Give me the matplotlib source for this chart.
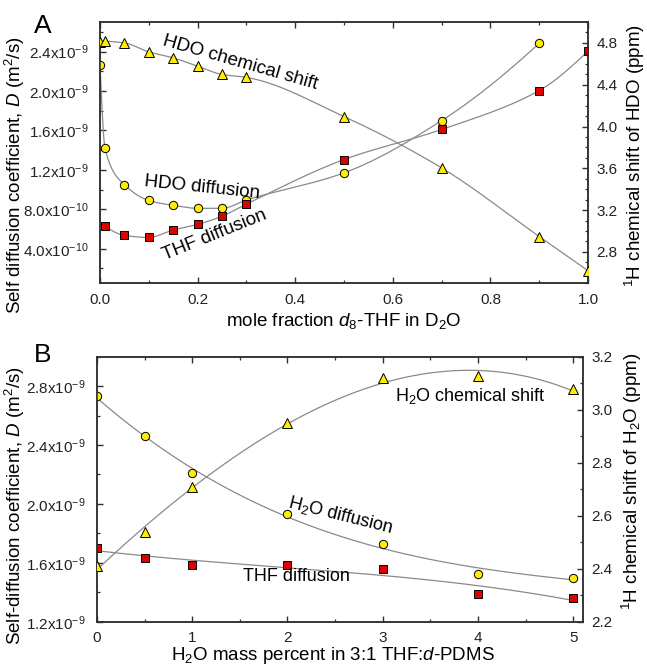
import numpy as np
import matplotlib
matplotlib.use("Agg")
import matplotlib.pyplot as plt
from matplotlib.ticker import MultipleLocator, FuncFormatter

plt.rcParams['font.family'] = ['Liberation Sans', 'DejaVu Sans']
plt.rcParams['mathtext.fontset'] = 'custom'
plt.rcParams['mathtext.rm'] = 'Liberation Sans'
plt.rcParams['mathtext.it'] = 'Liberation Sans:italic'
plt.rcParams['mathtext.default'] = 'rm'

# ---- Panel A: d8-THF / D2O mixtures ----
a_x_hdo = [0.0, 0.01, 0.05, 0.10, 0.15, 0.20, 0.25, 0.30, 0.50, 0.70, 0.90]
a_d_hdo = [2.26e-9, 1.42e-9, 1.05e-9, 0.89e-9, 0.84e-9, 0.81e-9, 0.81e-9,
           0.895e-9, 1.17e-9, 1.70e-9, 2.485e-9]
a_x_thf = [0.01, 0.05, 0.10, 0.15, 0.20, 0.25, 0.30, 0.50, 0.70, 0.90, 1.0]
a_d_thf = [0.63e-9, 0.535e-9, 0.515e-9, 0.59e-9, 0.647e-9, 0.73e-9, 0.853e-9,
           1.305e-9, 1.61e-9, 2.005e-9, 2.405e-9]
a_x_shift = [0.0, 0.01, 0.05, 0.10, 0.15, 0.20, 0.25, 0.30, 0.50, 0.70, 0.90, 1.0]
a_shift = [4.81, 4.815, 4.80, 4.714, 4.657, 4.577, 4.498, 4.47, 4.095, 3.604,
           2.947, 2.62]

# ---- Panel B: H2O in 3:1 THF:d-PDMS ----
b_x = [0, 0.5, 1, 2, 3, 4, 5]
b_d_h2o = [2.73e-9, 2.462e-9, 2.207e-9, 1.93e-9, 1.727e-9, 1.527e-9, 1.497e-9]
b_d_thf = [1.704e-9, 1.63e-9, 1.587e-9, 1.587e-9, 1.558e-9, 1.389e-9, 1.362e-9]
b_shift = [2.409, 2.538, 2.708, 2.948, 3.119, 3.127, 3.077]

YELLOW = '#ffee00'
RED = '#e00000'
CURVE = '#8a8a8a'
SPINE = '#303030'


def pchip(x, y, n=400):
    """Monotone piecewise-cubic curve through the measured points."""
    x = np.asarray(x, float)
    y = np.asarray(y, float)
    h = np.diff(x)
    d = np.diff(y) / h
    m = np.zeros_like(y)
    for k in range(1, len(x) - 1):
        if d[k - 1] * d[k] > 0:
            w1 = 2 * h[k] + h[k - 1]
            w2 = h[k] + 2 * h[k - 1]
            m[k] = (w1 + w2) / (w1 / d[k - 1] + w2 / d[k])

    def edge(h0, h1, d0, d1):
        mm = ((2 * h0 + h1) * d0 - h0 * d1) / (h0 + h1)
        if np.sign(mm) != np.sign(d0):
            mm = 0.0
        elif np.sign(d0) != np.sign(d1) and abs(mm) > abs(3 * d0):
            mm = 3 * d0
        return mm

    m[0] = edge(h[0], h[1], d[0], d[1])
    m[-1] = edge(h[-1], h[-2], d[-1], d[-2])
    xs = np.linspace(x[0], x[-1], n)
    idx = np.clip(np.searchsorted(x, xs) - 1, 0, len(h) - 1)
    t = (xs - x[idx]) / h[idx]
    h00 = 2 * t**3 - 3 * t**2 + 1
    h10 = t**3 - 2 * t**2 + t
    h01 = -2 * t**3 + 3 * t**2
    h11 = t**3 - t**2
    ys = (h00 * y[idx] + h10 * h[idx] * m[idx] + h01 * y[idx + 1]
          + h11 * h[idx] * m[idx + 1])
    return xs, ys


def polyfit_curve(x, y, deg=3, n=300):
    """Least-squares polynomial trend through the measured points."""
    x = np.asarray(x, float)
    y = np.asarray(y, float)
    scale = np.abs(y).max()
    c = np.polyfit(x, y / scale, deg)
    xs = np.linspace(x[0], x[-1], n)
    return xs, np.polyval(c, xs) * scale


def sci_fmt(v, pos):
    if v <= 0:
        return ''
    e = int(np.floor(np.log10(v) + 1e-9))
    mant = v / 10.0**e
    return r'%.1fx10$^{%d}$' % (mant, e)


def style(ax):
    for s in ax.spines.values():
        s.set_linewidth(1.1)
        s.set_color(SPINE)
    ax.tick_params(which='both', direction='in', colors=SPINE,
                   labelcolor='#222222', labelsize=11)
    ax.tick_params(which='major', length=4, width=1.0)
    ax.tick_params(which='minor', length=2.5, width=0.9)


def series(ax, x, y, marker, color, ms, fit=None):
    if fit is None:
        cx, cy = pchip(x, y)
    else:
        cx, cy = polyfit_curve(x, y, fit)
    ax.plot(cx, cy, color=CURVE, lw=0.9, zorder=2)
    ax.plot(x, y, linestyle='none', marker=marker, ms=ms, mfc=color,
            mec='black', mew=0.7, zorder=3)


fig = plt.figure(figsize=(6.47, 6.67), dpi=100)

# ---------------- Panel A ----------------
axA = fig.add_axes([0.1546, 0.5753, 0.7543, 0.3917])
axA2 = axA.twinx()
series(axA, a_x_hdo, a_d_hdo, 'o', YELLOW, 6)
series(axA, a_x_thf, a_d_thf, 's', RED, 5.3)
series(axA2, a_x_shift, a_shift, '^', YELLOW, 6.5)

axA.set_xlim(0, 1.0)
axA.set_ylim(0.05e-9, 2.7e-9)
axA2.set_ylim(2.5, 5.0)
axA.xaxis.set_major_locator(MultipleLocator(0.2))
axA.xaxis.set_minor_locator(MultipleLocator(0.1))
axA.xaxis.set_major_formatter(FuncFormatter(lambda v, p: '%.1f' % v))
axA.yaxis.set_major_locator(MultipleLocator(0.4e-9))
axA.yaxis.set_minor_locator(MultipleLocator(0.2e-9))
axA.yaxis.set_major_formatter(FuncFormatter(sci_fmt))
axA2.yaxis.set_major_locator(MultipleLocator(0.4))
axA2.yaxis.set_minor_locator(MultipleLocator(0.1))
axA2.yaxis.set_major_formatter(FuncFormatter(lambda v, p: '%.1f' % v))
style(axA)
style(axA2)
axA.tick_params(which='both', top=True)
axA.tick_params(axis='x', pad=7)
axA.tick_params(axis='y', pad=8)
axA2.tick_params(axis='y', pad=6)

axA.set_xlabel(r'mole fraction $\mathit{d}_8$-THF in D$_2$O', fontsize=13.5)
axA.xaxis.set_label_coords(0.5, -0.108)
axA.set_ylabel(r'Self diffusion coefficient, $\mathit{D}$ (m$^2$/s)', fontsize=13.5)
axA.yaxis.set_label_coords(-0.150, 0.414)
axA2.set_ylabel(r'$^1$H chemical shift of HDO (ppm)', fontsize=13.5)
axA2.yaxis.set_label_coords(1.072, 0.49)

axA.text(0.287, 0.843, 'HDO chemical shift', transform=axA.transAxes,
         rotation=-16, fontsize=13.5, ha='center', va='center',
         rotation_mode='anchor')
axA.text(0.209, 0.365, 'HDO diffusion', transform=axA.transAxes,
         rotation=-6, fontsize=13.5, ha='center', va='center',
         rotation_mode='anchor')
axA.text(0.234, 0.185, 'THF diffusion', transform=axA.transAxes,
         rotation=22, fontsize=13.5, ha='center', va='center',
         rotation_mode='anchor')
fig.text(0.052, 0.9505, 'A', fontsize=19, ha='left', va='baseline')

# ---------------- Panel B ----------------
axB = fig.add_axes([0.1499, 0.0679, 0.7516, 0.3973])
axB2 = axB.twinx()
series(axB, b_x, b_d_h2o, 'o', YELLOW, 6, fit=3)
series(axB, b_x, b_d_thf, 's', RED, 5.3, fit=3)
series(axB2, b_x, b_shift, '^', YELLOW, 6.5, fit=3)

axB.set_xlim(0, 5.105)
axB.set_ylim(1.2e-9, 3.0e-9)
axB2.set_ylim(2.2, 3.2)
axB.xaxis.set_major_locator(MultipleLocator(1))
axB.xaxis.set_minor_locator(MultipleLocator(0.5))
axB.yaxis.set_major_locator(MultipleLocator(0.4e-9))
axB.yaxis.set_minor_locator(MultipleLocator(0.2e-9))
axB.yaxis.set_major_formatter(FuncFormatter(sci_fmt))
axB2.yaxis.set_major_locator(MultipleLocator(0.2))
axB2.yaxis.set_minor_locator(MultipleLocator(0.1))
axB2.yaxis.set_major_formatter(FuncFormatter(lambda v, p: '%.1f' % v))
style(axB)
style(axB2)
axB.tick_params(which='both', top=True)
axB.tick_params(axis='x', pad=7)
axB.tick_params(axis='y', pad=8)
axB2.tick_params(axis='y', pad=6)

axB.set_xlabel(r'H$_2$O mass percent in 3:1 THF:$\mathit{d}$-PDMS', fontsize=13.5)
axB.xaxis.set_label_coords(0.485, -0.087)
axB.set_ylabel(r'Self-diffusion coefficient, $\mathit{D}$ (m$^2$/s)', fontsize=13.5)
axB.yaxis.set_label_coords(-0.144, 0.437)
axB2.set_ylabel(r'$^1$H chemical shift of H$_2$O (ppm)', fontsize=13.5)
axB2.yaxis.set_label_coords(1.075, 0.53)

axB.text(0.767, 0.852, r'H$_2$O chemical shift', transform=axB.transAxes,
         fontsize=13, ha='center', va='center')
axB.text(0.50, 0.403, r'H$_2$O diffusion', transform=axB.transAxes,
         rotation=-14, fontsize=13, ha='center', va='center',
         rotation_mode='anchor')
axB.text(0.41, 0.172, 'THF diffusion', transform=axB.transAxes,
         fontsize=13, ha='center', va='center')
fig.text(0.052, 0.457, 'B', fontsize=19, ha='left', va='baseline')

fig.savefig('out.png', dpi=100)
